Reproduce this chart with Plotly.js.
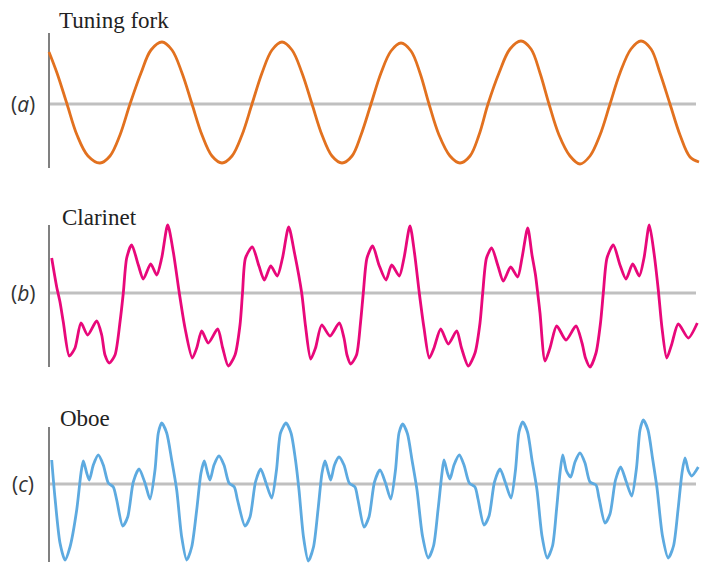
<!DOCTYPE html>
<html>
<head>
<meta charset="utf-8">
<script src="https://cdn.plot.ly/plotly-3.0.1.min.js"></script>
<style>html,body{margin:0;padding:0;background:#fff;}#chart{width:708px;height:563px;}</style>
</head>
<body>
<div id="chart"></div>
<script>
// Tuning fork waveform (time, amplitude)
var forkT = [49, 57, 67, 77, 88, 100, 110, 120, 130, 141, 151, 162, 172, 182, 192, 202, 212, 222, 232, 242, 252, 262, 272, 282, 292, 302, 312, 322, 332, 342, 352, 361, 371, 381, 391, 401, 411, 420, 429, 439, 450, 460, 470, 479, 488, 499, 510, 521, 531, 540, 549, 559, 570, 580, 590, 600, 610, 620, 631, 641, 651, 660, 670, 680, 690, 699];
var forkA = [52, 31, 0, -31, -52, -59, -52, -31, 0, 31, 54, 62, 54, 31, 0, -31, -52, -59, -52, -31, 0, 31, 54, 62, 54, 31, 0, -31, -52, -59, -52, -31, 0, 31, 53, 61, 53, 31, 0, -31, -52, -59, -52, -31, 0, 31, 55, 63, 55, 31, 0, -31, -52, -60, -52, -31, 0, 31, 55, 63, 55, 31, 0, -31, -53, -58];

// Clarinet waveform
var clarT = [51.7, 56.7, 60, 63.3, 69.3, 75, 81, 87.7, 96.7, 101.7, 105, 109.3, 115, 120, 123.3, 126.7, 131.7, 138.3, 143.3, 150.7, 156.7, 161.7, 167.7, 173.3, 179.3, 185, 192.3, 196.7, 201.7, 208.3, 217.7, 222.7, 228.3, 235, 240, 242.5,
             245.5, 252.3, 259, 264.3, 270.7, 277.3, 282.5, 288.7, 294.5, 301.7, 305.5, 310.7, 315.5, 321.7, 330, 339.3, 344, 347, 350.7, 356.5, 360.5, 363.3,
             367, 372.7, 379, 386, 391.7, 399.3, 404, 410, 414.5, 419.3, 424, 429.3, 434, 440.7, 448.3, 456.7, 461.5, 468.3, 475, 480, 482.7,
             486.5, 491.7, 498, 503.3, 510.7, 517.7, 522, 527.7, 532, 535.5, 537.7, 540, 545, 550, 556.7, 566, 576, 582, 585.5, 590, 596, 600.5, 603.3,
             607, 613.3, 620, 626, 632.7, 639.3, 644, 649.3, 654, 658.3, 662, 666.7, 671.5, 678.3, 688.3, 697.3];
var clarA = [35, 6, -9, -29, -63, -55, -30, -42, -28, -42, -62, -70, -62, -29, 0, 35, 48, 28, 14, 29, 18, 35, 68, 41, 0, -35, -65, -55, -38, -50, -36, -55, -73, -62, -32, 0,
             35, 46, 27, 13, 27, 17, 35, 66, 40, 0, -33, -66, -55, -32, -43, -30, -45, -62, -71, -62, -30, 0,
             35, 47, 28, 13, 28, 17, 35, 67, 40, 0, -35, -65, -55, -36, -51, -38, -55, -73, -60, -30, 0,
             35, 45, 27, 12, 26, 16, 35, 65, 38, 18, 0, -20, -68, -55, -33, -47, -33, -50, -65, -74, -60, -30, 0,
             35, 48, 28, 14, 29, 17, 35, 68, 40, 3, -35, -65, -52, -31, -45, -30];

// Oboe waveform
var oboeT = [51.7, 55, 60, 65, 70, 76.7, 81, 83.3, 86.7, 89.3, 93.3, 98.3, 103.3, 108.3, 113.3, 116.7, 122.7, 127.7, 133.3, 139, 145, 150, 155, 158.3, 161.7, 166.7, 171.7, 176.7, 181.7, 186.7, 191.7, 196.7,
             201, 204.3, 207.5, 210, 214, 219, 224, 229, 234.3, 237.5, 245, 250, 255.5, 260.7, 266, 271.7, 276.5, 280.5, 286, 291, 295.5, 299, 303.5, 308.3, 313.5, 318,
             322, 325, 328.5, 330.7, 334.5, 339, 344, 349.3, 355, 358, 364, 369, 374.5, 380, 385.5, 390.7, 395.5, 399, 402.7, 407.5, 412, 417, 422.5, 428.3, 433.5, 438,
             442, 444, 447.5, 450, 454, 459.3, 464, 469.3, 475, 478, 484, 489, 494.5, 500, 505.5, 511, 515.5, 519, 522.7, 527.5, 532, 537, 542, 547.3, 552.5, 556.5,
             560, 562.7, 566.5, 570.7, 575, 580, 585, 590, 596, 599, 605, 610, 615.5, 620.7, 626, 631.7, 636.5, 640, 643.3, 648, 652.5, 657, 662.5, 668.3, 673.5, 678,
             682, 685, 688.5, 691.7, 698.3];
var oboeA = [24, -14, -59, -76, -63, -26, 11, 23, 11, 4, 19, 29, 19, 1, -3, -16, -42, -33, 2, 15, 1, -15, 14, 51, 61, 51, 24, -6, -53, -76, -63, -26,
             11, 23, 11, 4, 19, 28, 19, 1, -3, -16, -42, -33, 2, 15, 1, -14, 14, 51, 61, 51, 24, -6, -53, -77, -63, -26,
             11, 23, 11, 4, 19, 27, 19, 1, -3, -16, -43, -33, 2, 14, 1, -15, 14, 51, 60, 50, 24, -6, -52, -74, -62, -26,
             11, 24, 11, 5, 19, 29, 19, 1, -3, -15, -41, -32, 2, 15, 1, -14, 14, 52, 62, 52, 24, -6, -52, -74, -62, -26,
             11, 29, 13, 7, 22, 31, 21, 2, -1, -14, -39, -30, 4, 17, 3, -12, 16, 54, 64, 54, 26, -4, -52, -74, -62, -26,
             11, 26, 13, 8, 17];

var panelTitles = ["Tuning fork", "Clarinet", "Oboe"];
var panelLabels = ["(<i>a</i>)", "(<i>b</i>)", "(<i>c</i>)"];
var colors = ["#E2711F", "#E8087A", "#5DAAE0"];

var traces = [
  {x: forkT, y: forkA, yaxis: "y", mode: "lines", line: {color: colors[0], width: 2.8, shape: "spline", smoothing: 1}, hoverinfo: "skip"},
  {x: clarT, y: clarA, yaxis: "y2", mode: "lines", line: {color: colors[1], width: 2.8, shape: "spline", smoothing: 0.7}, hoverinfo: "skip"},
  {x: oboeT, y: oboeA, yaxis: "y3", mode: "lines", line: {color: colors[2], width: 2.8, shape: "spline", smoothing: 0.7}, hoverinfo: "skip"}
];

var ax = {visible: false, fixedrange: true};
var refs = ["y", "y2", "y3"];
var axisSpan = [[71, -64], [68, -74], [57, -78]];
var titleY = [84, 76, 66];
var titleX = [57, 60, 58];

var shapes = [], annotations = [];
for (var i = 0; i < 3; i++) {
  shapes.push({type: "line", xref: "x", yref: refs[i], x0: 49, x1: 696, y0: 0, y1: 0, line: {color: "#C0C0C0", width: 3}, layer: "below"});
  shapes.push({type: "line", xref: "x", yref: refs[i], x0: 49, x1: 49, y0: axisSpan[i][0], y1: axisSpan[i][1], line: {color: "#808080", width: 2}, layer: "below"});
  annotations.push({xref: "x", yref: refs[i], x: titleX[i], y: titleY[i], xanchor: "left", yanchor: "middle", showarrow: false, text: panelTitles[i], font: {family: "Liberation Serif, serif", size: 23, color: "#222"}});
  annotations.push({xref: "x", yref: refs[i], x: 23, y: 0, xanchor: "center", yanchor: "middle", showarrow: false, text: panelLabels[i], font: {family: "Open Sans, sans-serif", size: 21, color: "#333"}});
}

var layout = {
  width: 708, height: 563,
  margin: {l: 0, r: 0, t: 0, b: 0},
  paper_bgcolor: "#fff", plot_bgcolor: "#fff",
  showlegend: false,
  xaxis: Object.assign({range: [0, 708]}, ax),
  yaxis: Object.assign({range: [104 - 563, 104]}, ax),
  yaxis2: Object.assign({range: [293 - 563, 293], overlaying: "y"}, ax),
  yaxis3: Object.assign({range: [484 - 563, 484], overlaying: "y"}, ax),
  shapes: shapes,
  annotations: annotations
};

Plotly.newPlot("chart", traces, layout, {displayModeBar: false, staticPlot: true});
</script>
</body>
</html>
